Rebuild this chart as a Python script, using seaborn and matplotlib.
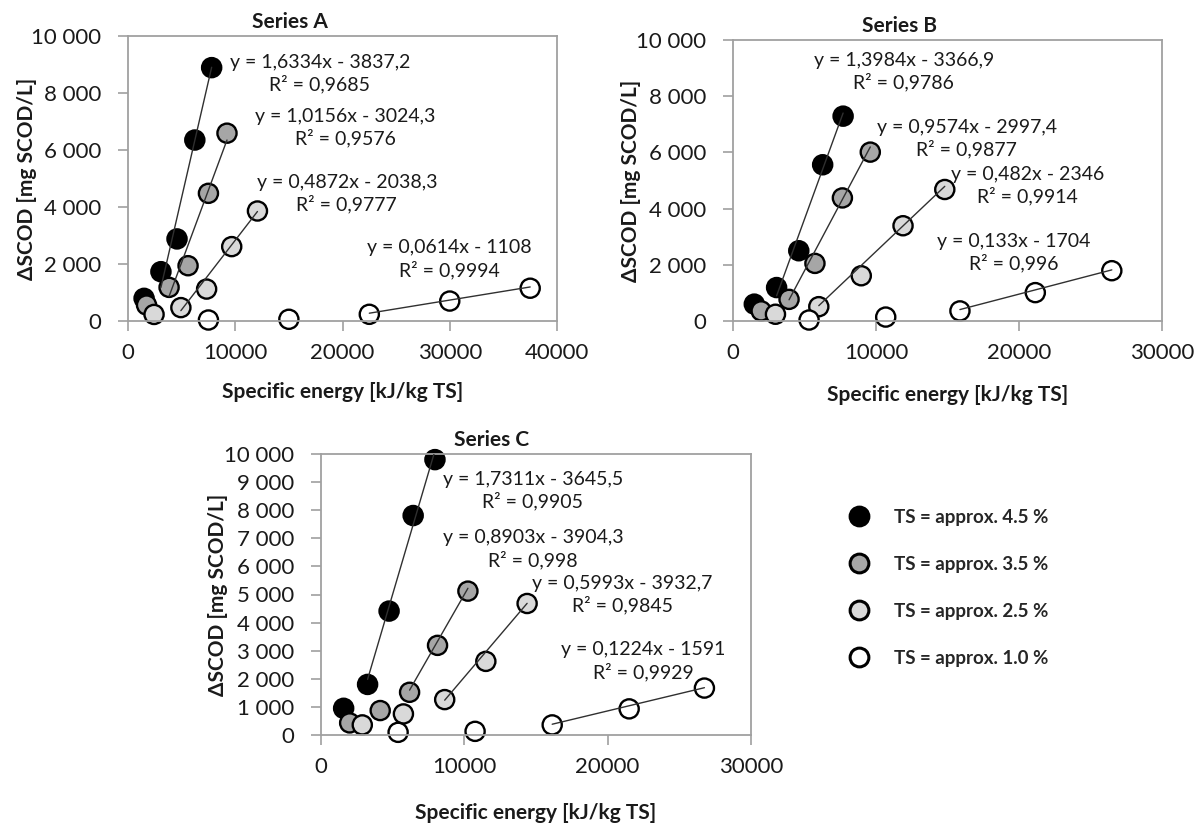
import matplotlib
matplotlib.use("Agg")
import matplotlib.pyplot as plt
from matplotlib.lines import Line2D
from matplotlib.ticker import FuncFormatter, MultipleLocator
import numpy as np
import pandas as pd
import seaborn as sns

# TS levels (legend order) and marker fills
levels = ["TS = approx. 4.5 %", "TS = approx. 3.5 %", "TS = approx. 2.5 %", "TS = approx. 1.0 %"]
fills = ["#000000", "#a6a6a6", "#d9d9d9", "#ffffff"]

# Series A: specific energy [kJ/kg TS] and dSCOD [mg/L]
a_x = [[1500, 3070, 4570, 6230, 7800],
       [1730, 3830, 5600, 7500, 9230],
       [2430, 4930, 7330, 9670, 12070],
       [7500, 15000, 22500, 30000, 37500]]
a_y = [[795, 1730, 2880, 6350, 8890],
       [560, 1180, 1940, 4480, 6590],
       [230, 470, 1120, 2610, 3860],
       [35, 60, 235, 700, 1150]]
a_fit = [(1.6334, -3837.2, 1), (1.0156, -3024.3, 1), (0.4872, -2038.3, 1), (0.0614, -1108, 2)]
a_eq = ["y = 1,6334x - 3837,2\nR² = 0,9685", "y = 1,0156x - 3024,3\nR² = 0,9576",
        "y = 0,4872x - 2038,3\nR² = 0,9777", "y = 0,0614x - 1108\nR² = 0,9994"]

# Series B
b_x = [[1490, 3050, 4600, 6270, 7700],
       [1970, 3920, 5730, 7650, 9600],
       [2970, 6000, 8970, 11890, 14810],
       [5320, 10680, 15870, 21140, 26490]]
b_y = [[600, 1190, 2500, 5560, 7290],
       [360, 770, 2050, 4380, 6010],
       [240, 510, 1610, 3390, 4680],
       [35, 140, 360, 1010, 1790]]
b_fit = [(1.3984, -3366.9, 1), (0.9574, -2997.4, 1), (0.482, -2346, 1), (0.133, -1704, 2)]
b_eq = ["y = 1,3984x - 3366,9\nR² = 0,9786", "y = 0,9574x - 2997,4\nR² = 0,9877",
        "y = 0,482x - 2346\nR² = 0,9914", "y = 0,133x - 1704\nR² = 0,996"]

# Series C
c_x = [[1580, 3250, 4750, 6430, 7950],
       [2000, 4130, 6180, 8130, 10250],
       [2880, 5750, 8630, 11500, 14380],
       [5380, 10750, 16130, 21500, 26750]]
c_y = [[950, 1800, 4410, 7810, 9800],
       [430, 870, 1520, 3190, 5120],
       [360, 750, 1260, 2620, 4680],
       [95, 130, 360, 930, 1670]]
c_fit = [(1.7311, -3645.5, 1), (0.8903, -3904.3, 2), (0.5993, -3932.7, 2), (0.1224, -1591, 2)]
c_eq = ["y = 1,7311x - 3645,5\nR² = 0,9905", "y = 0,8903x - 3904,3\nR² = 0,998",
        "y = 0,5993x - 3932,7\nR² = 0,9845", "y = 0,1224x - 1591\nR² = 0,9929"]

sns.set_theme(style="white")
plt.rcParams["font.family"] = ["Lato", "DejaVu Sans"]

fig = plt.figure(figsize=(12.04, 8.27), dpi=100)
W, H = 1204, 827

panels = [
    dict(title="Series A", xs=a_x, ys=a_y, fit=a_fit, eq=a_eq, xmax=40000, ystep=2000,
         box=(128, 36, 429, 285), title_x=0.377, xlab_y=-0.249, ylab_x=-0.235,
         eq_pos=[(0.4475, 0.867), (0.506, 0.679), (0.51, 0.448), (0.75, 0.217)]),
    dict(title="Series B", xs=b_x, ys=b_y, fit=b_fit, eq=b_eq, xmax=30000, ystep=2000,
         box=(733, 40, 429, 281), title_x=0.387, xlab_y=-0.262, ylab_x=-0.237,
         eq_pos=[(0.398, 0.886), (0.545, 0.65), (0.686, 0.482), (0.654, 0.244)]),
    dict(title="Series C", xs=c_x, ys=c_y, fit=c_fit, eq=c_eq, xmax=30000, ystep=1000,
         box=(321, 454, 430, 281), title_x=0.396, xlab_y=-0.278, ylab_x=-0.24,
         eq_pos=[(0.493, 0.870), (0.493, 0.661), (0.70, 0.50), (0.75, 0.2625)]),
]

spine_col = "#a0a0a0"
thousands = FuncFormatter(lambda v, p: f"{int(v):,}".replace(",", " "))

for p in panels:
    l, t, w, h = p["box"]
    ax = fig.add_axes([l / W, 1 - (t + h) / H, w / W, h / H])

    rows = []
    for lev, xs, ys in zip(levels, p["xs"], p["ys"]):
        for x, y in zip(xs, ys):
            rows.append({"energy": x, "dscod": y, "ts": lev})
    df = pd.DataFrame(rows)

    sns.scatterplot(data=df, x="energy", y="dscod", hue="ts", hue_order=levels,
                    palette=dict(zip(levels, fills)), s=190, edgecolor="black",
                    linewidth=1.7, legend=False, ax=ax, zorder=2, clip_on=False)

    # trend lines from the printed equations, over the fitted points
    for (k, b, i0), xs in zip(p["fit"], p["xs"]):
        xx = np.array([xs[i0], xs[-1]])
        ax.plot(xx, k * xx + b, color="#303030", lw=1.0, zorder=3)

    for (ex, ey), txt in zip(p["eq_pos"], p["eq"]):
        ax.text(ex, ey, txt, transform=ax.transAxes, ha="center", va="center",
                multialignment="center", fontsize=14, linespacing=1.25, color="#1a1a1a", zorder=4)

    ax.set_xlim(0, p["xmax"])
    ax.set_ylim(0, 10000)
    ax.xaxis.set_major_locator(MultipleLocator(10000))
    ax.yaxis.set_major_locator(MultipleLocator(p["ystep"]))
    ax.yaxis.set_major_formatter(thousands)
    ax.xaxis.set_major_formatter(FuncFormatter(lambda v, pos: f"{int(v)}"))
    for s in ax.spines.values():
        s.set_color(spine_col)
        s.set_linewidth(1.3)
    ax.tick_params(axis="both", which="major", direction="out", length=7, width=1.2,
                   color=spine_col, labelsize=16, labelcolor="#1a1a1a")
    ax.tick_params(axis="y", pad=12)
    ax.tick_params(axis="x", pad=9)
    ax.tick_params(bottom=True, left=True)

    ax.set_xlabel("Specific energy [kJ/kg TS]", fontsize=15, fontweight="bold", color="#1a1a1a")
    ax.set_ylabel("ΔSCOD [mg SCOD/L]", fontsize=15, fontweight="bold", color="#1a1a1a")
    ax.xaxis.set_label_coords(0.5, p["xlab_y"])
    ax.yaxis.set_label_coords(p["ylab_x"], 0.5)
    ax.xaxis.label.set_va("center")
    ax.yaxis.label.set_va("center")
    ax.text(p["title_x"], 1 + 14 / h, p["title"], transform=ax.transAxes, ha="center",
            va="center", fontsize=15, fontweight="bold", color="#1a1a1a")

handles = [Line2D([], [], marker="o", linestyle="none", markersize=13.5,
                  markerfacecolor=f, markeredgecolor="black", markeredgewidth=2.2)
           for f in fills]
leg = fig.legend(handles, levels, loc="upper left", bbox_to_anchor=(831 / W, 1 - 492 / H),
                 frameon=False, handlelength=1.2, handletextpad=1.27, labelspacing=1.6,
                 prop={"size": 13.5, "weight": "bold"})

fig.savefig("out.png", dpi=100)
